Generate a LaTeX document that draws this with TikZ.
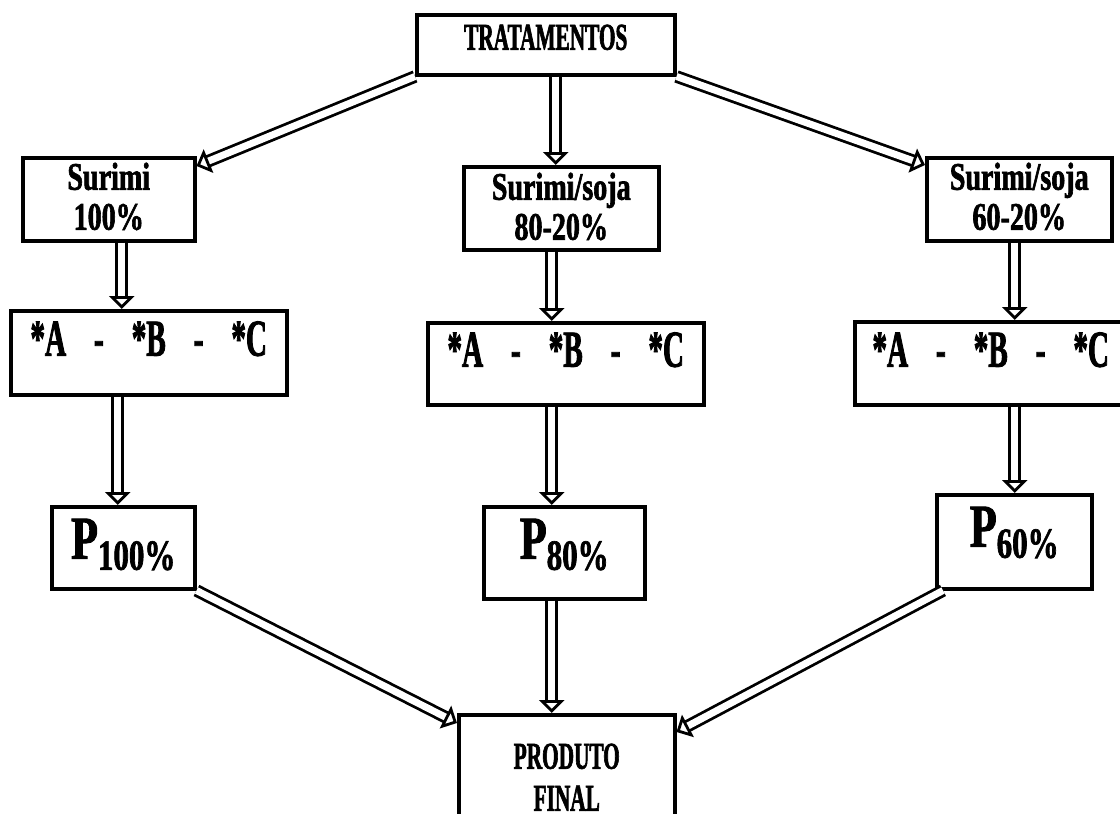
\documentclass[tikz,border=0pt]{standalone}
\usepackage{fontspec}
\setmainfont{Liberation Serif}
\newfontfamily\estreito{Liberation Serif}[FakeStretch=0.56, FakeBold=1.6]
\newfontfamily\medio{Liberation Serif}[FakeStretch=0.72, FakeBold=1.6]
\usetikzlibrary{arrows.meta}

\newcommand{\tresletras}{*A\hspace{28pt}-\hspace{28pt}*B\hspace{28pt}-\hspace{28pt}*C}
\newcommand{\Pcomp}[1]{{\fontsize{61}{61}\selectfont P}\raisebox{-11pt}{\fontsize{43}{43}\selectfont #1\%}}

\begin{document}
\begin{tikzpicture}[x=1pt, y=-1pt,
  caixa/.style={draw, line width=3.5pt, inner sep=0pt, anchor=north west, align=center, fill=white},
  fonteA/.style={font=\estreito\bfseries\fontsize{38}{42}\selectfont},
  fonteB/.style={font=\medio\bfseries\fontsize{39}{40}\selectfont},
  fonteC/.style={font=\estreito\bfseries\fontsize{52}{52}\selectfont},
  fonteP/.style={font=\medio\bfseries},
  seta/.style={double, double distance=7pt, line width=2.8pt, -{Triangle[open, fill=white, length=13pt, width=25pt, line width=2.8pt]}}]
\useasboundingbox (0,0) rectangle (1120,814);
\clip (0,0) rectangle (1120,814);

\node[caixa, fonteA, minimum width=258, text height=35pt, text depth=25pt] (Tratamentos) at (415,13) {TRATAMENTOS};

\node[caixa, fonteB, minimum width=172, text height=72pt, text depth=11pt] (Surimi) at (21,156) {Surimi\\100\%};
\node[caixa, fonteB, minimum width=195, text height=73pt, text depth=10pt] (SurimiSoja80) at (462,165) {Surimi/soja\\80-20\%};
\node[caixa, fonteB, minimum width=185, text height=72pt, text depth=11pt] (SurimiSoja60) at (925,156) {Surimi/soja\\60-20\%};

\node[caixa, fonteC, minimum width=276, text height=45pt, text depth=39pt] (Amostras100) at (9,309) {\tresletras};
\node[caixa, fonteC, minimum width=276, text height=44pt, text depth=38pt] (Amostras80) at (426,321) {\tresletras};
\node[caixa, fonteC, minimum width=272, text height=45pt, text depth=38pt] (Amostras60) at (853,320) {\tresletras};

\node[caixa, fonteP, minimum width=143, text height=52pt, text depth=30pt] (P100) at (50,505) {\Pcomp{100}};
\node[caixa, fonteP, minimum width=161, text height=52pt, text depth=40pt] (P80) at (482,505) {\Pcomp{80}};
\node[caixa, fonteP, minimum width=155, text height=52pt, text depth=42pt] (P60) at (935,493) {\Pcomp{60}};

\node[caixa, fonteA, minimum width=216, text height=96pt, text depth=31pt] (ProdutoFinal) at (457,713) {PRODUTO\\FINAL};

\draw[seta] (Tratamentos.south west) -- ([yshift=-10pt]Surimi.north east);
\draw[seta] ([xshift=10pt]Tratamentos.south) -- ([xshift=-5.5pt]SurimiSoja80.north);
\draw[seta] (Tratamentos.south east) -- ([yshift=-9pt]SurimiSoja60.north west);

\draw[seta] ([xshift=13pt]Surimi.south) -- ([xshift=-27pt]Amostras100.north);
\draw[seta] ([xshift=-9.5pt]SurimiSoja80.south) -- ([xshift=-14pt]Amostras80.north);
\draw[seta] ([xshift=-4.5pt]SurimiSoja60.south) -- ([xshift=24pt]Amostras60.north);

\draw[seta] ([xshift=-31pt]Amostras100.south) -- ([xshift=-5.5pt]P100.north);
\draw[seta] ([xshift=-14pt]Amostras80.south) -- ([xshift=-12.5pt]P80.north);
\draw[seta] ([xshift=24pt]Amostras60.south) -- ([xshift=0.5pt]P60.north);

\draw[seta] (P100.south east) -- ([yshift=-10pt]ProdutoFinal.north west);
\draw[seta] ([xshift=-12.5pt]P80.south) -- ([xshift=-15pt]ProdutoFinal.north);
\draw[seta] ([xshift=8pt]P60.south west) -- ([yshift=-19pt]ProdutoFinal.north east);

\end{tikzpicture}
\end{document}
